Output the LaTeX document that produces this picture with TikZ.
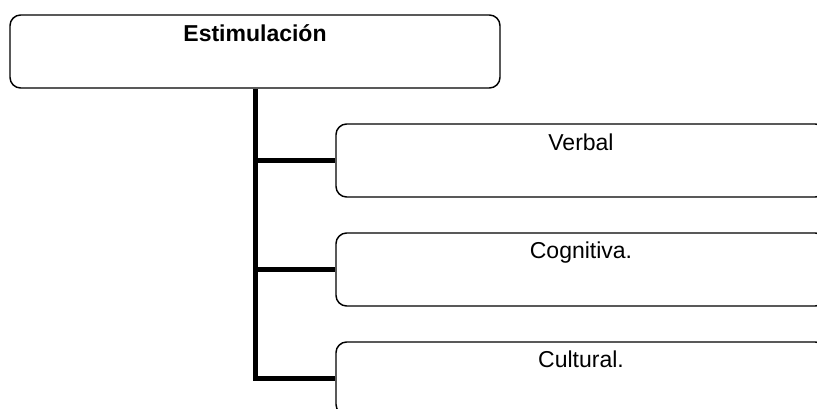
\documentclass[tikz,border=0pt]{standalone}
\usepackage{fontspec}
\setmainfont{Liberation Sans}
\usetikzlibrary{calc}
\begin{document}
\begin{tikzpicture}[x=0.75pt,y=-0.75pt,
  boxnode/.style={draw=black,line width=1.1pt,rounded corners=8pt,minimum width=367.5pt,minimum height=54.75pt,inner sep=0pt},
  lbl/.style={anchor=base,inner sep=0pt,font=\fontsize{17.25}{20}\selectfont},
  trunk/.style={line width=4.2pt,line join=miter,line cap=butt}]
\clip (0,0) rectangle (817,408);
\node[boxnode] (root) at (255,51.5) {};
\node[boxnode] (c1) at (581,160.5) {};
\node[boxnode] (c2) at (581,269.5) {};
\node[boxnode] (c3) at (581,378.5) {};
\node[lbl,font=\fontsize{17.25}{20}\selectfont\bfseries] (t0) at ($(root.north)+(0,27.5)$) {Estimulación};
\node[lbl] (t1) at ($(c1.north)+(0,27.5)$) {Verbal};
\node[lbl] (t2) at ($(c2.north)+(0,26.5)$) {Cognitiva.};
\node[lbl] (t3) at ($(c3.north)+(0,26.5)$) {Cultural.};
\draw[trunk] ($(root.south)+(0.5,0)$) -- ($(root.south|-c3.west)+(0.5,0)$) -- (c3.west);
\draw[trunk] ($(root.south|-c1.west)+(0.5,0)$) -- (c1.west);
\draw[trunk] ($(root.south|-c2.west)+(0.5,0)$) -- (c2.west);
\end{tikzpicture}
\end{document}
